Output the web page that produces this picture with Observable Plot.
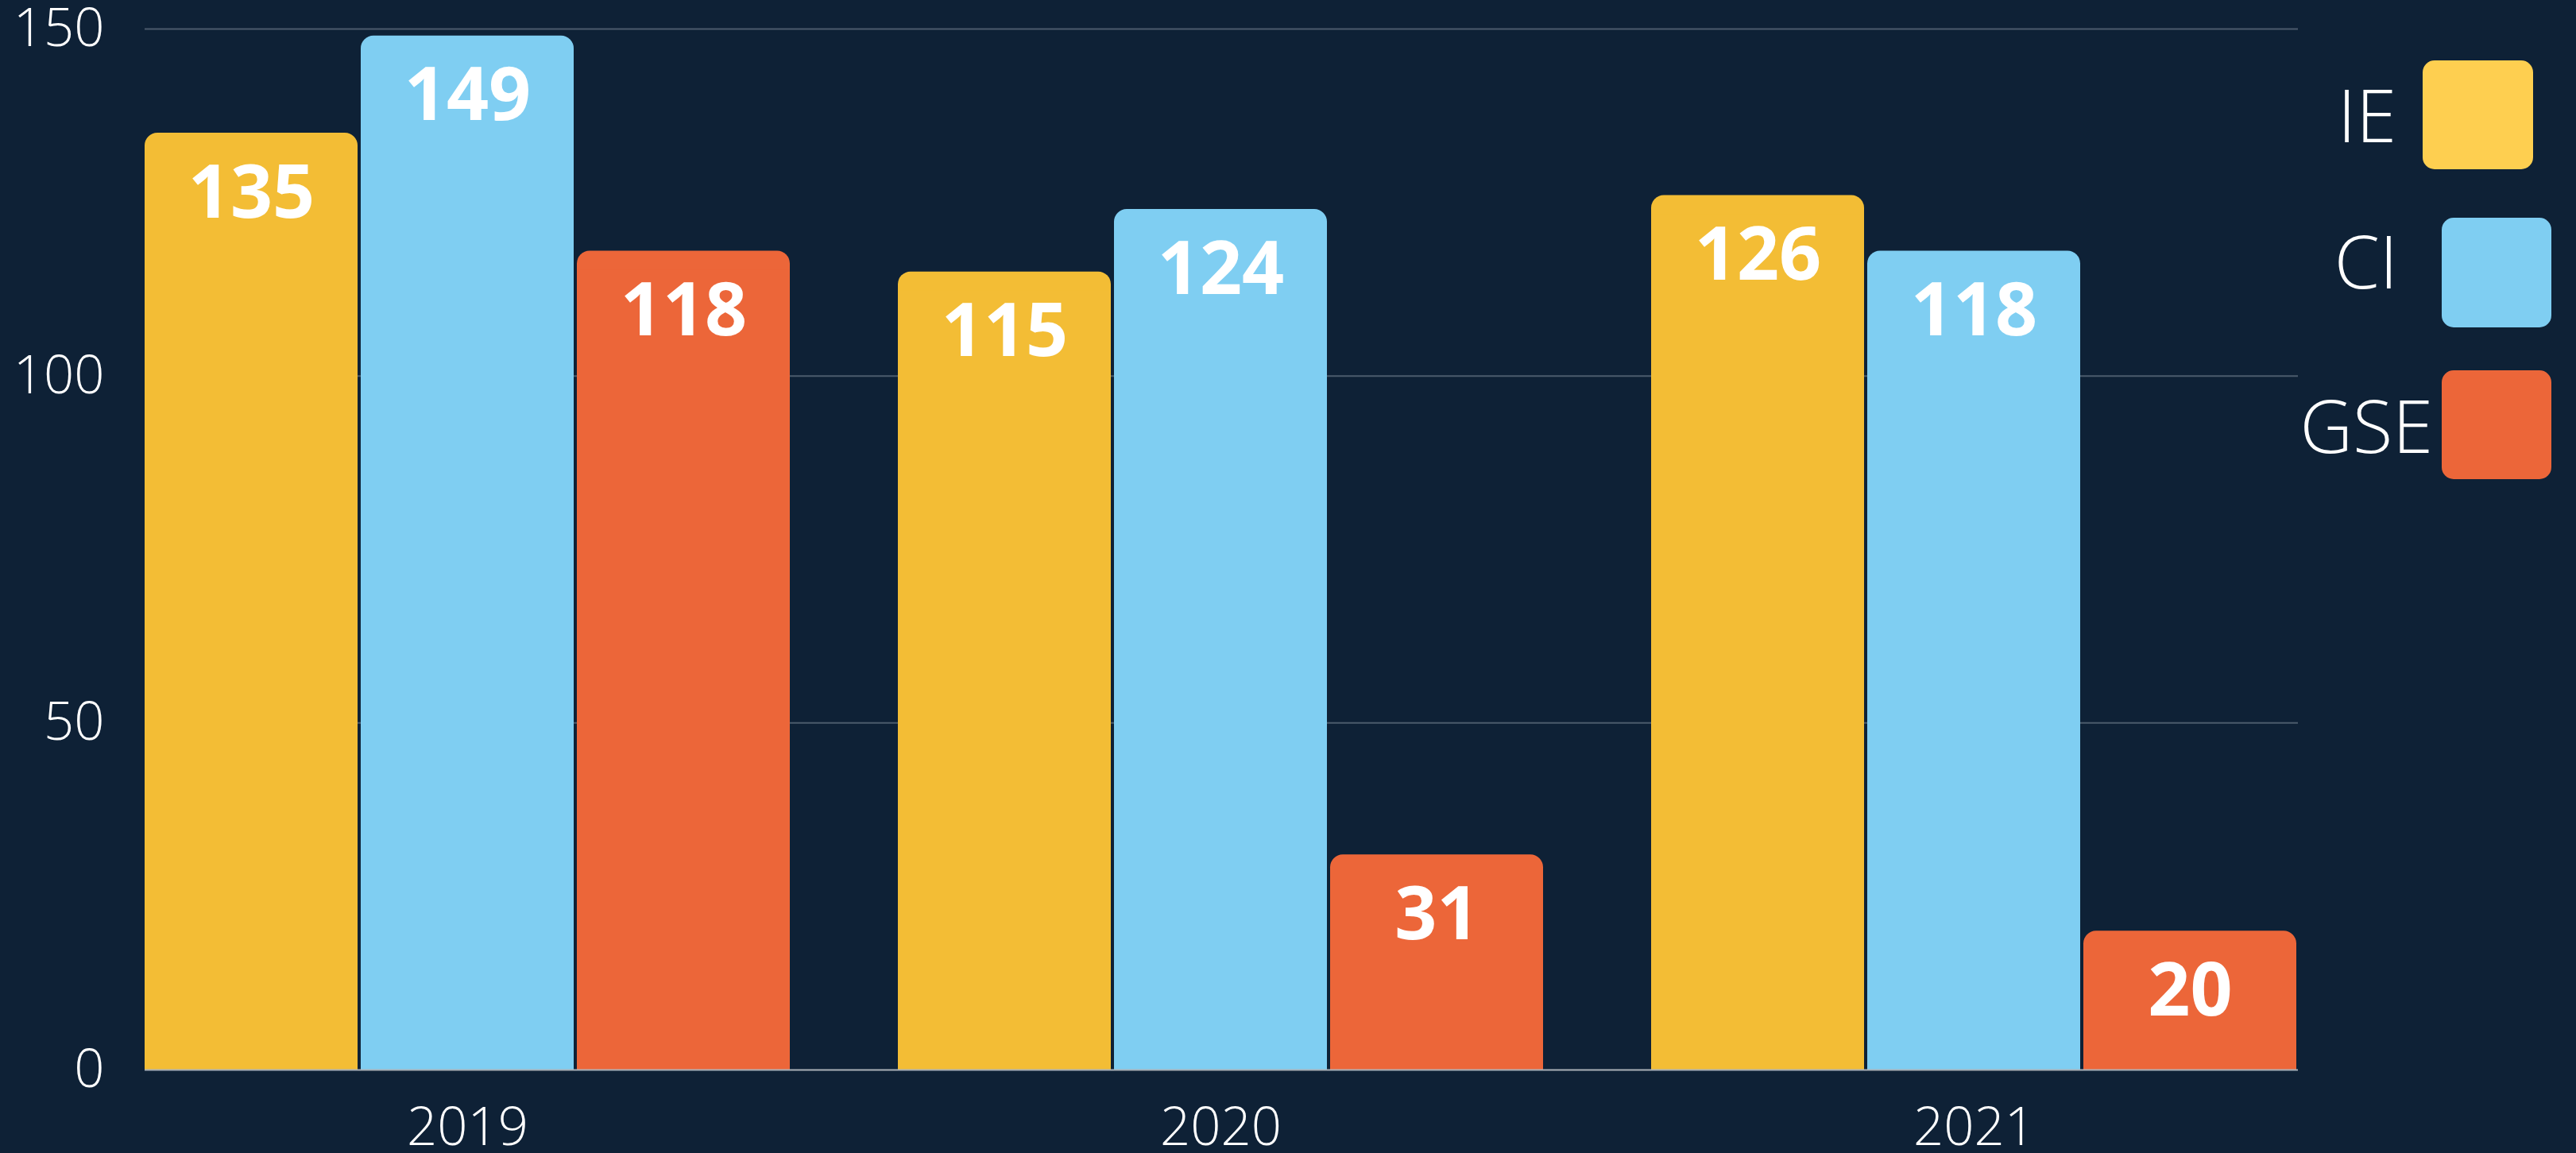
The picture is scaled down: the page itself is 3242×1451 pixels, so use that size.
<!DOCTYPE html>
<html>
<head>
<meta charset="utf-8">
<script src="https://cdn.jsdelivr.net/npm/d3@7"></script>
<script src="https://cdn.jsdelivr.net/npm/@observablehq/plot@0.6"></script>
<style>
  html, body { margin: 0; padding: 0; background: #0e2136; }
  #wrap { position: relative; width: 3242px; height: 1451px; overflow: hidden; background: #0e2136; }
  .lg-text { position: absolute; font-family: "Open Sans", sans-serif; font-weight: 300; font-size: 92px; line-height: 92px; color: #ffffff; white-space: nowrap; text-align: right; }
  .lg-swatch { position: absolute; border-radius: 15px; }
</style>
</head>
<body>
<div id="wrap"></div>
<script>
// ---- data ----
const years = ["2019", "2020", "2021"];
const series = ["IE", "CI", "GSE"];
const ieValues = [135, 115, 126];
const ciValues = [149, 124, 118];
const gseValues = [118, 31, 20];
const yTicks = [0, 50, 100, 150];
const barColors = ["#f3bd35", "#7fcef2", "#ec6639"];
const legendColors = ["#fecf50", "#7fcef2", "#ec6639"];

const valuesBySeries = { IE: ieValues, CI: ciValues, GSE: gseValues };
const data = [];
years.forEach((year, i) => {
  series.forEach(s => data.push({ year, series: s, value: valuesBySeries[s][i] }));
});

const W = 3242, H = 1451;
const mL = 181, mR = 351, mT = 36, mB = 105;
const plotW = W - mL - mR;

const chart = Plot.plot({
  width: W,
  height: H,
  marginLeft: mL,
  marginRight: mR,
  marginTop: mT,
  marginBottom: mB,
  style: {
    background: "transparent",
    color: "#ffffff",
    fontFamily: "'Open Sans', sans-serif",
    fontSize: "67px",
    fontWeight: 300
  },
  fx: { domain: years, paddingInner: 0.143, paddingOuter: 0, label: null, axis: "bottom", tickSize: 0, tickPadding: 47 },
  x: { domain: series, paddingInner: 0.015, paddingOuter: 0, axis: null },
  y: { domain: [0, 150], label: null },
  color: { domain: series, range: barColors },
  marks: [
    // gridlines spanning the whole frame (drawn as long ticks from the left axis)
    Plot.axisY({ ticks: yTicks.filter(t => t > 0), tickSize: -plotW, tickFormat: () => "", label: null, stroke: "#4b5b6c", strokeWidth: 2, strokeOpacity: 1 }),
    // tick labels
    Plot.axisY({ ticks: yTicks, tickSize: 0, tickPadding: 51, label: null }),
    Plot.barY(data, { fx: "year", x: "series", y: "value", fill: "series", rx: 16 }),
    Plot.barY(data, { fx: "year", x: "series", y: "value", fill: "series", insetTop: 24 }),
    // baseline
    Plot.axisY({ ticks: [0], tickSize: -plotW, tickFormat: () => "", label: null, stroke: "#aab1b8", strokeWidth: 2, strokeOpacity: 1 }),
    Plot.text(data, {
      fx: "year", x: "series", y: "value",
      text: d => String(d.value),
      fill: "#ffffff", fontSize: 93, fontWeight: 700,
      lineAnchor: "top", dy: 40
    })
  ]
});

const wrap = document.getElementById("wrap");
chart.style.position = "absolute";
chart.style.left = "0px";
chart.style.top = "0px";
wrap.appendChild(chart);

// ---- legend (right side) ----
const legendLayout = [
  { textRight: 226, textTop: 98, sx: 3049, sy: 76, sw: 139, sh: 137 },
  { textRight: 224, textTop: 282, sx: 3073, sy: 274, sw: 138, sh: 138 },
  { textRight: 180, textTop: 489, sx: 3073, sy: 466, sw: 138, sh: 137 }
];
series.forEach((s, i) => {
  const L = legendLayout[i];
  const t = document.createElement("div");
  t.className = "lg-text";
  t.textContent = s;
  t.style.right = L.textRight + "px";
  t.style.top = L.textTop + "px";
  wrap.appendChild(t);
  const sw = document.createElement("div");
  sw.className = "lg-swatch";
  sw.style.left = L.sx + "px";
  sw.style.top = L.sy + "px";
  sw.style.width = L.sw + "px";
  sw.style.height = L.sh + "px";
  sw.style.background = legendColors[i];
  wrap.appendChild(sw);
});
</script>
</body>
</html>
